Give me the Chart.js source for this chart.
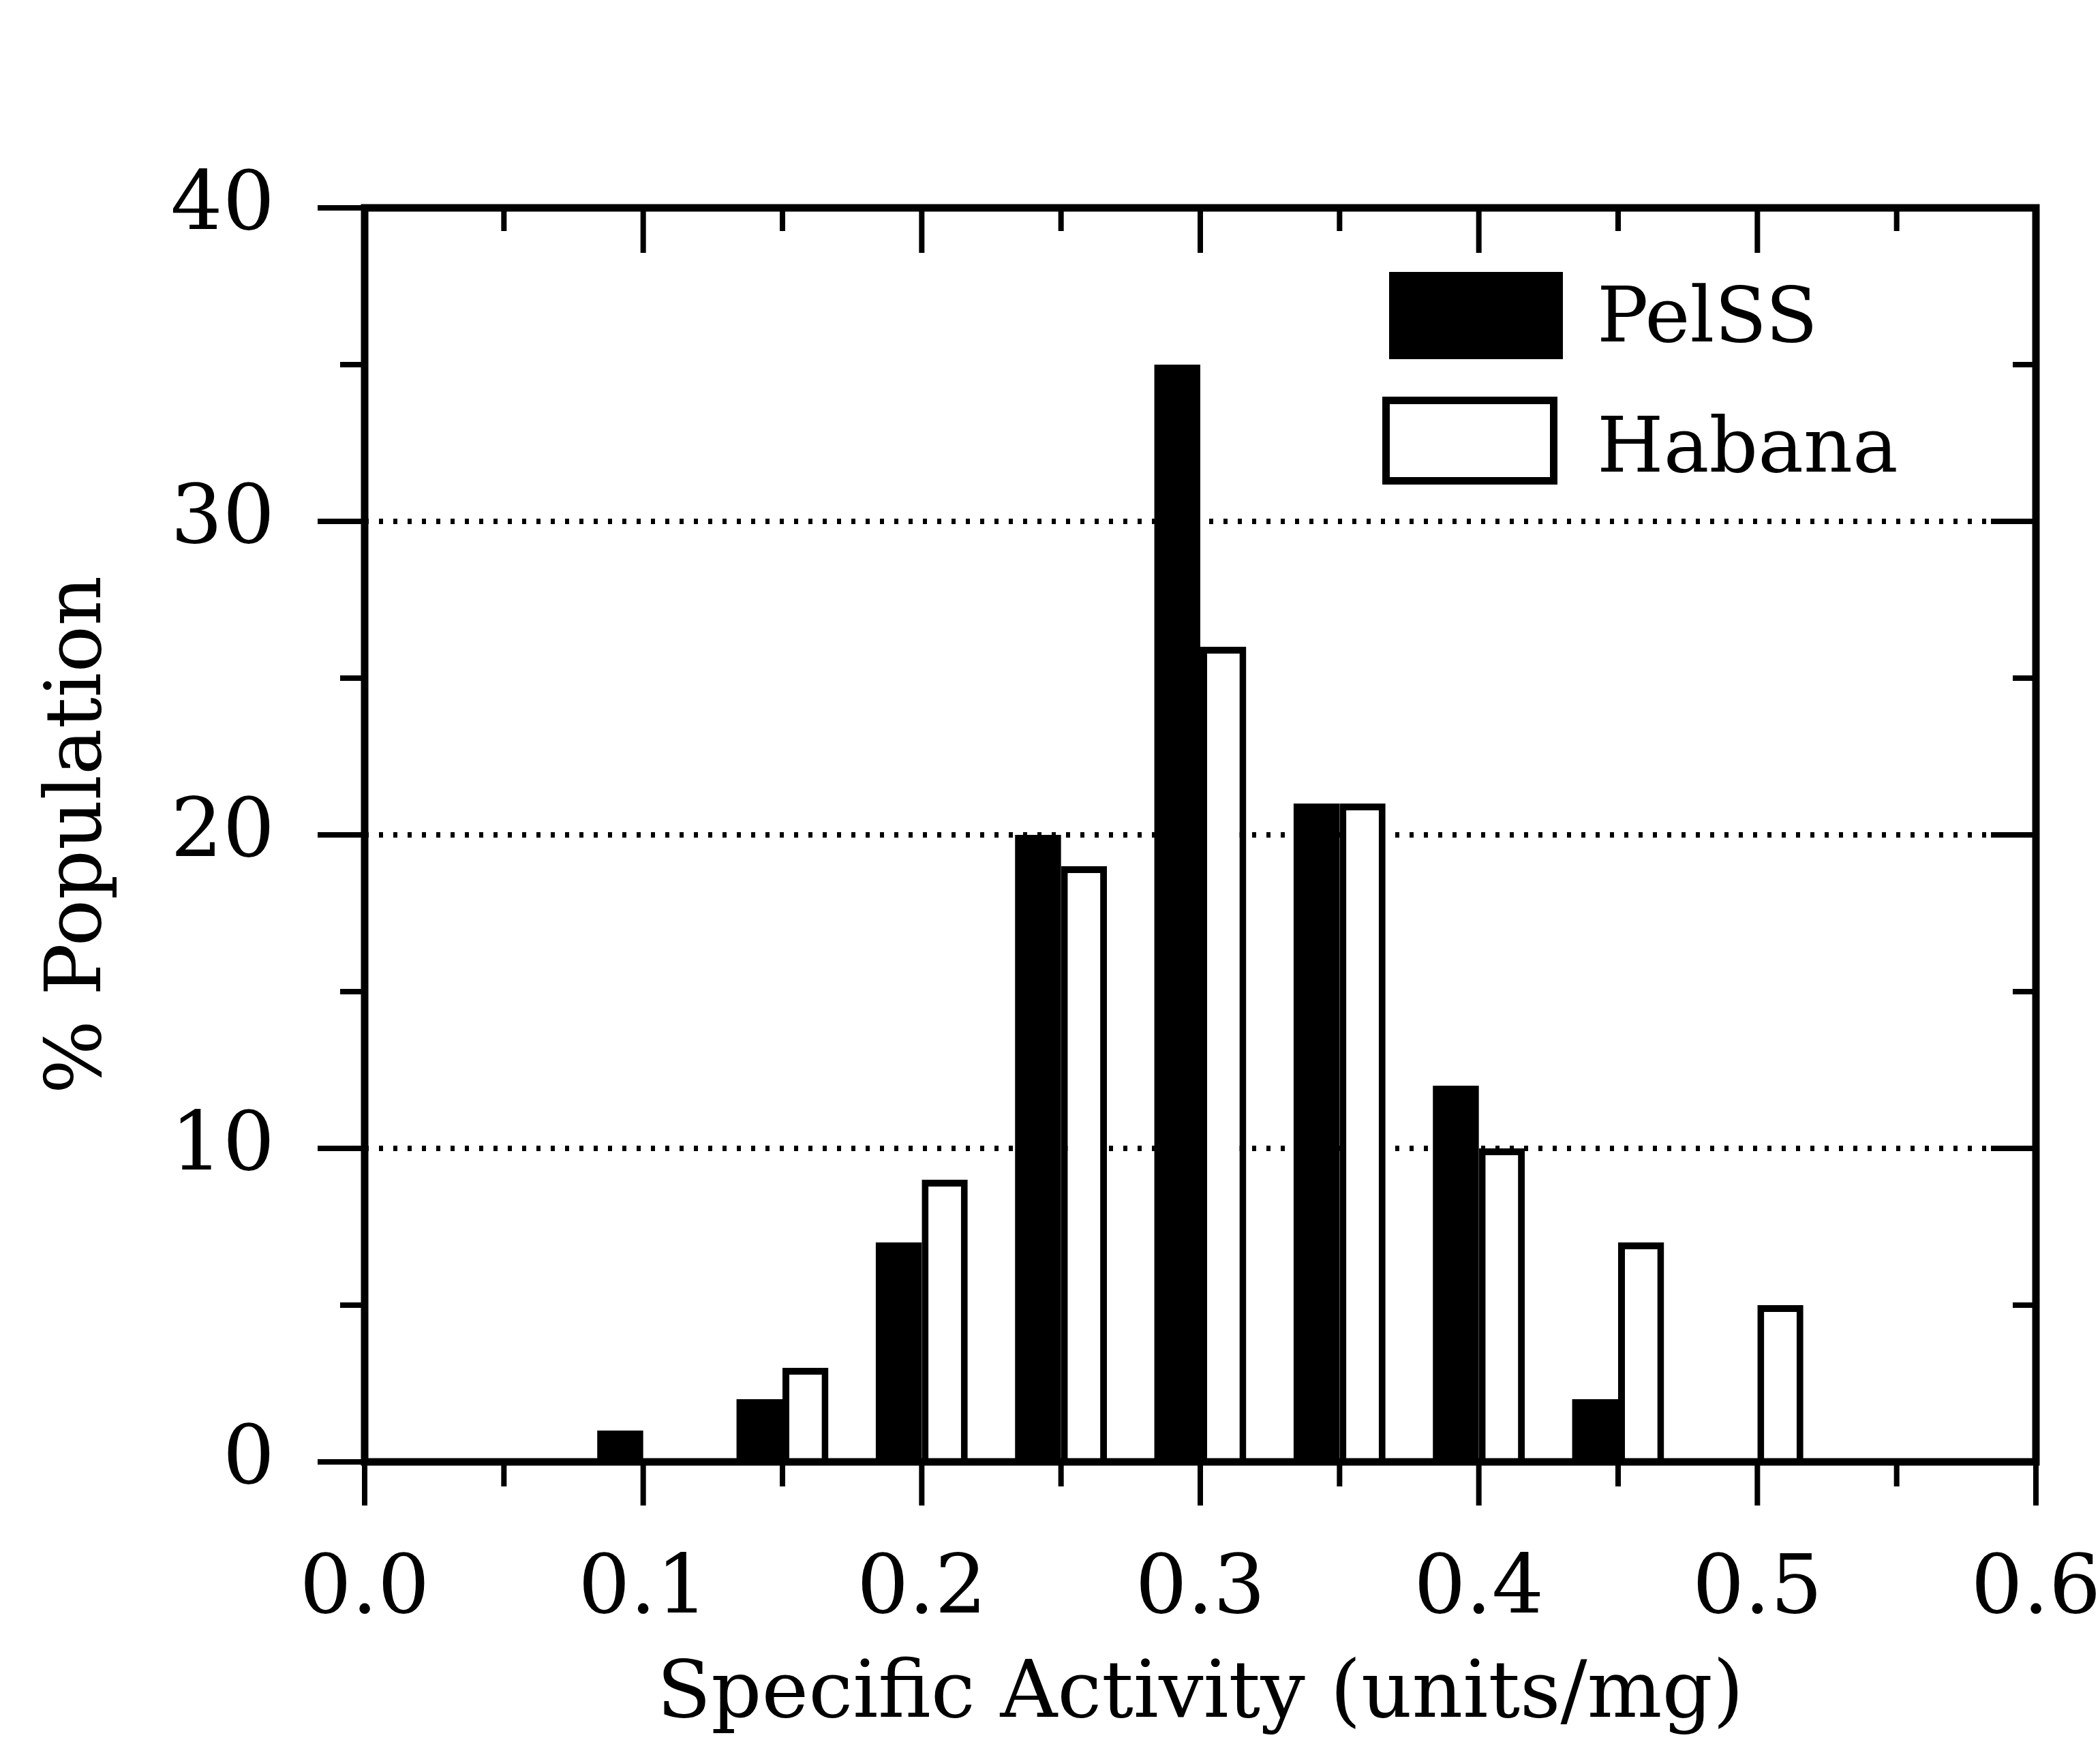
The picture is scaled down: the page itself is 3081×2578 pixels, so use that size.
<!DOCTYPE html>
<html>
<head>
<meta charset="utf-8">
<script src="https://cdn.jsdelivr.net/npm/chart.js@4.4.1/dist/chart.umd.min.js"></script>
<style>
  html, body { margin: 0; padding: 0; background: #fff; }
  canvas { display: block; }
</style>
</head>
<body>
<canvas id="chart" width="3081" height="2578"></canvas>
<script>
// bin centres (units/mg) and % population per strain
const bins = [0.10, 0.15, 0.20, 0.25, 0.30, 0.35, 0.40, 0.45, 0.50];
const pelss = [1, 2, 7, 20, 35, 21, 12, 2, 0];
const habana = [0, 3, 9, 19, 26, 21, 10, 7, 5];
const xTicks = [0.0, 0.1, 0.2, 0.3, 0.4, 0.5, 0.6];
const yTicks = [0, 10, 20, 30, 40];
const gridValues = [10, 20, 30];

const FONT = "'DejaVu Serif', serif";

// frame, tick marks and legend drawn like the original plot
const framePlugin = {
    id: "frame",
    afterDatasetsDraw(chart) {
        const { ctx, chartArea: ca, scales } = chart;
        const x = scales.x, y = scales.y;
        ctx.save();
        ctx.strokeStyle = "#000";
        ctx.lineCap = "square";

        // tick marks every 0.05 / every 5
        ctx.lineWidth = 8;
        for (let i = 0; i <= 12; i++) {
            const px = x.getPixelForValue(i * 0.05);
            const major = i % 2 === 0;
            ctx.beginPath();
            ctx.moveTo(px, ca.bottom);
            ctx.lineTo(px, ca.bottom + (major ? 60 : 32));
            ctx.moveTo(px, ca.top);
            ctx.lineTo(px, ca.top + (major ? 62 : 30));
            ctx.stroke();
        }
        for (let i = 0; i <= 8; i++) {
            const py = y.getPixelForValue(i * 5);
            const major = i % 2 === 0;
            ctx.beginPath();
            ctx.moveTo(ca.left - (major ? 65 : 32), py);
            ctx.lineTo(ca.left, py);
            ctx.moveTo(ca.right - (major ? 62 : 30), py);
            ctx.lineTo(ca.right, py);
            ctx.stroke();
        }

        // box
        ctx.lineWidth = 11;
        ctx.lineCap = "butt";
        ctx.strokeRect(ca.left, ca.top, ca.right - ca.left, ca.bottom - ca.top);

        // legend
        const lx = ca.right - 949;
        ctx.fillStyle = "#000";
        ctx.fillRect(lx, ca.top + 94, 255, 128);
        ctx.lineWidth = 11;
        ctx.strokeRect(lx - 4.5, ca.top + 282.5, 246, 118);
        ctx.font = "112px " + FONT;
        ctx.textBaseline = "alphabetic";
        ctx.textAlign = "left";
        ctx.fillText(chart.data.datasets[0].label, lx + 305, ca.top + 196);
        ctx.fillText(chart.data.datasets[1].label, lx + 305, ca.top + 387);
        ctx.restore();
    },
};

new Chart(document.getElementById("chart"), {
    type: "bar",
    data: {
        datasets: [
            {
                label: "PelSS",
                data: bins.map((b, i) => ({ x: b, y: pelss[i] })),
                backgroundColor: "#000",
                borderWidth: 0,
            },
            {
                label: "Habana",
                data: bins.map((b, i) => ({ x: b, y: habana[i] })),
                backgroundColor: "#fff",
                borderColor: "#000",
                borderWidth: 10,
                borderSkipped: "bottom",
            },
        ],
    },
    options: {
        responsive: false,
        devicePixelRatio: 1,
        animation: false,
        categoryPercentage: 0.66,
        barPercentage: 1.0,
        layout: { padding: { left: 0, right: 94, top: 305, bottom: 0 } },
        plugins: {
            legend: { display: false },
            tooltip: { enabled: false },
        },
        scales: {
            x: {
                type: "linear",
                min: 0,
                max: 0.6,
                offset: false,
                afterBuildTicks: (scale) => {
                    scale.ticks = xTicks.map((v) => ({ value: v }));
                },
                afterFit: (scale) => {
                    scale.height = 433;
                    scale.paddingLeft = 0;
                    scale.paddingRight = 0;
                },
                ticks: {
                    autoSkip: false,
                    maxRotation: 0,
                    padding: 118,
                    color: "#000",
                    font: { family: FONT, size: 120 },
                    callback: (v) => Number(v).toFixed(1),
                },
                grid: { display: false, drawTicks: false },
                border: { display: false },
                title: {
                    display: true,
                    text: "Specific Activity (units/mg)",
                    color: "#000",
                    font: { family: FONT, size: 116 },
                    padding: { top: 0, bottom: 20 },
                },
            },
            y: {
                min: 0,
                max: 40,
                afterBuildTicks: (scale) => {
                    scale.ticks = yTicks.map((v) => ({ value: v }));
                },
                afterFit: (scale) => {
                    scale.width = 535;
                },
                ticks: {
                    padding: 132,
                    color: "#000",
                    font: { family: FONT, size: 120 },
                },
                grid: {
                    drawTicks: false,
                    color: (c) => (gridValues.includes(c.tick && c.tick.value) ? "#000" : "rgba(0,0,0,0)"),
                    lineWidth: 8,
                },
                border: { display: false, dash: [6, 15] },
                title: {
                    display: true,
                    text: "% Population",
                    color: "#000",
                    font: { family: FONT, size: 114 },
                    padding: { top: 49, bottom: 0 },
                },
            },
        },
    },
    plugins: [framePlugin],
});
</script>
</body>
</html>
